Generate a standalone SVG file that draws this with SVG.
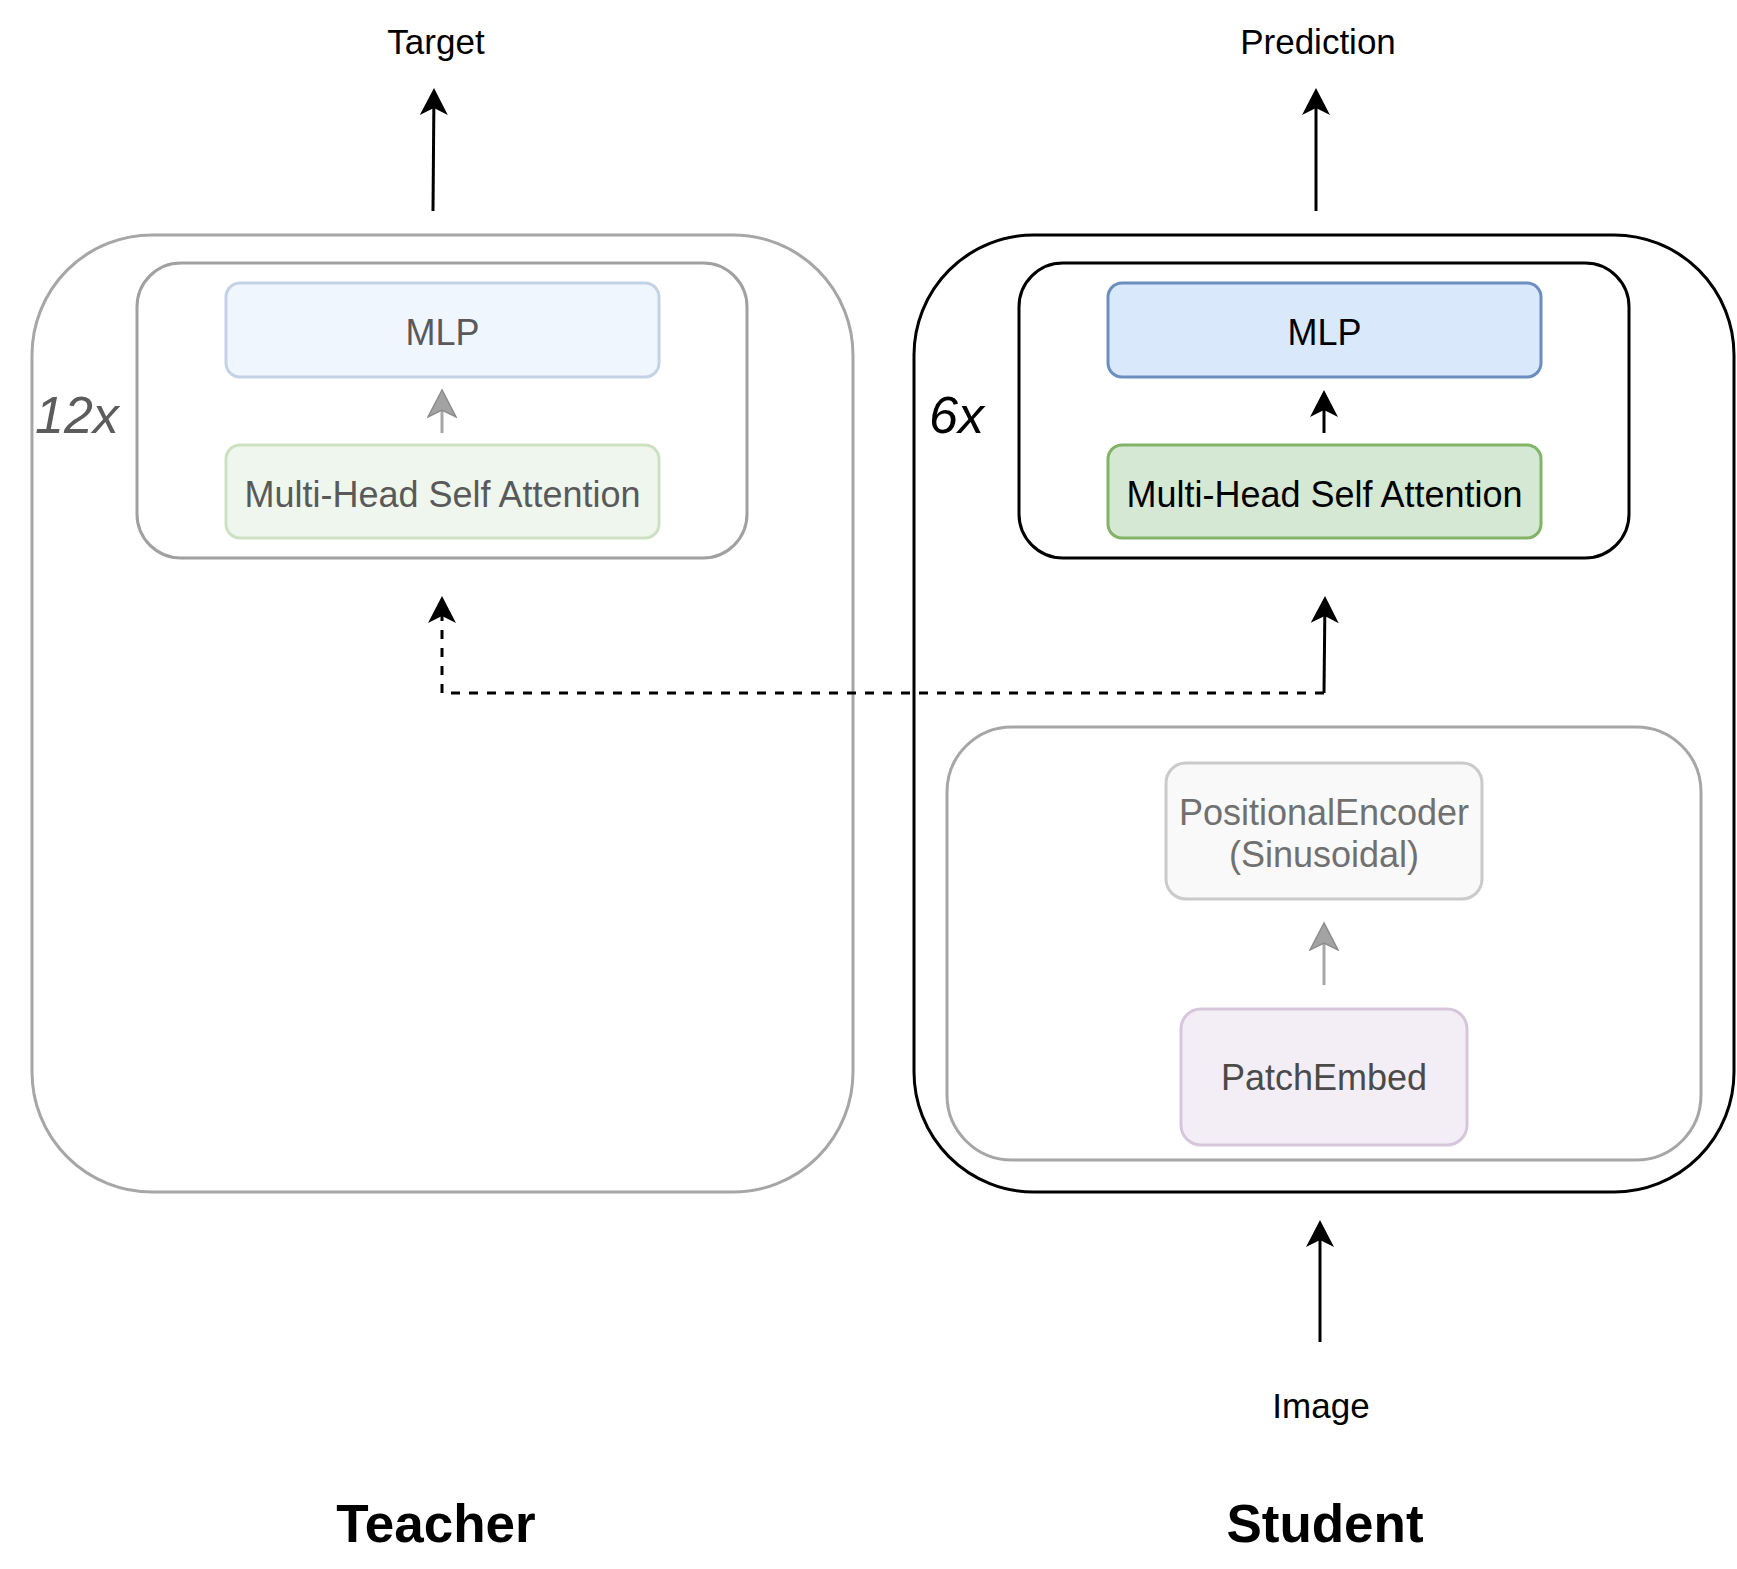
<svg xmlns="http://www.w3.org/2000/svg" width="1737" height="1569" viewBox="0 0 1737 1569">
  <defs>
    <style>
      text { font-family: "Liberation Sans", Arial, Helvetica, sans-serif; }
      .lbl { font-size: 35px; text-anchor: middle; fill: #000; }
      .nl { font-size: 36px; text-anchor: middle; fill: #000; }
      .nl-t { font-size: 36px; text-anchor: middle; fill: #595959; }
      .title { font-size: 53px; font-weight: bold; text-anchor: middle; fill: #000; }
      .rep { font-size: 52px; font-style: italic; }
      .box-gray { fill: #fff; stroke: #a6a6a6; stroke-width: 3; }
      .box-black { fill: #fff; stroke: #000; stroke-width: 3; }
      .edge { fill: none; stroke: #000; stroke-width: 3; }
      .edge-dash { fill: none; stroke: #000; stroke-width: 3; stroke-dasharray: 9 9; }
      .edge-gray { fill: none; stroke: #a6a6a6; stroke-width: 3; }
    </style>
    <marker id="ah" markerUnits="userSpaceOnUse" orient="auto" viewBox="-10 -15 32 30" markerWidth="32" markerHeight="30" refX="0" refY="0">
      <path d="M20,0 L-7,-14 L0,0 L-7,14 Z" fill="#000" stroke="none"/>
    </marker>
    <marker id="ahg" markerUnits="userSpaceOnUse" orient="auto" viewBox="-10 -15 32 30" markerWidth="32" markerHeight="30" refX="0" refY="0">
      <path d="M20,0 L-7,-14 L0,0 L-7,14 Z" fill="#a3a3a3" stroke="#8c8c8c" stroke-width="1.5"/>
    </marker>
  </defs>

  <!-- Teacher side -->
  <g id="teacher-encoder">
    <rect class="box-gray" x="32" y="235" width="821" height="957" rx="120" ry="120"/>
  </g>
  <g id="teacher-block">
    <rect x="137" y="263" width="610" height="295" rx="44" ry="44" fill="#fff" stroke="#a0a0a0" stroke-width="3"/>
    <text class="rep" x="35" y="433" fill="#5c5c5c">12x</text>
  </g>
  <g id="teacher-mlp">
    <rect x="226" y="283" width="433" height="94" rx="14" ry="14" fill="#f0f6fe" stroke="#c4d2e5" stroke-width="3"/>
    <text class="nl-t" x="442.5" y="345">MLP</text>
  </g>
  <g id="teacher-mhsa">
    <rect x="226" y="445" width="433" height="93" rx="14" ry="14" fill="#eef6ee" stroke="#cde1c2" stroke-width="3"/>
    <text class="nl-t" x="442.5" y="507">Multi-Head Self Attention</text>
  </g>

  <!-- Student side -->
  <g id="student-encoder">
    <rect class="box-black" x="914" y="235" width="820" height="957" rx="120" ry="120"/>
  </g>
  <g id="student-block">
    <rect class="box-black" x="1019" y="263" width="610" height="295" rx="44" ry="44"/>
    <text class="rep" x="929" y="433" fill="#000">6x</text>
  </g>
  <g id="student-mlp">
    <rect x="1108" y="283" width="433" height="94" rx="14" ry="14" fill="#dae8fc" stroke="#6c8ebf" stroke-width="3"/>
    <text class="nl" x="1324.5" y="345">MLP</text>
  </g>
  <g id="student-mhsa">
    <rect x="1108" y="445" width="433" height="93" rx="14" ry="14" fill="#d5e8d4" stroke="#82b366" stroke-width="3"/>
    <text class="nl" x="1324.5" y="507">Multi-Head Self Attention</text>
  </g>
  <g id="embedding-block">
    <rect class="box-gray" x="947" y="727" width="754" height="433" rx="65" ry="65"/>
  </g>
  <g id="positional-encoder">
    <rect x="1166" y="763" width="316" height="136" rx="20" ry="20" fill="#f9f9f9" stroke="#cacaca" stroke-width="3"/>
    <text class="nl" x="1324" y="825" style="fill:#707070">PositionalEncoder</text>
    <text class="nl" x="1324" y="867" style="fill:#707070">(Sinusoidal)</text>
  </g>
  <g id="patch-embed">
    <rect x="1181" y="1009" width="286" height="136" rx="20" ry="20" fill="#f3eef5" stroke="#d5c6dc" stroke-width="3"/>
    <text class="nl" x="1324" y="1090" style="fill:#4a4a4a">PatchEmbed</text>
  </g>

  <!-- Free labels -->
  <g id="label-target"><text class="lbl" x="436" y="54">Target</text></g>
  <g id="label-prediction"><text class="lbl" x="1318" y="54">Prediction</text></g>
  <g id="label-image"><text class="lbl" x="1321" y="1418">Image</text></g>
  <g id="label-teacher"><text class="title" x="436" y="1542">Teacher</text></g>
  <g id="label-student"><text class="title" x="1325" y="1542">Student</text></g>

  <!-- Connectors -->
  <g id="connectors">
    <path class="edge" d="M433,211 L433.84,108" marker-end="url(#ah)"/>
    <path class="edge" d="M1316,211 L1316,108" marker-end="url(#ah)"/>
    <path class="edge-gray" d="M442,433 L442,410" marker-end="url(#ahg)"/>
    <path class="edge" d="M1324,433 L1324,410" marker-end="url(#ah)"/>
    <path class="edge" d="M1324,693 L1324.8,616" marker-end="url(#ah)"/>
    <path class="edge-dash" d="M1324,693 L442,693 L442,616" marker-end="url(#ah)"/>
    <path class="edge-gray" d="M1324,985 L1324,943" marker-end="url(#ahg)"/>
    <path class="edge" d="M1320,1342 L1320,1240" marker-end="url(#ah)"/>
  </g>
</svg>
